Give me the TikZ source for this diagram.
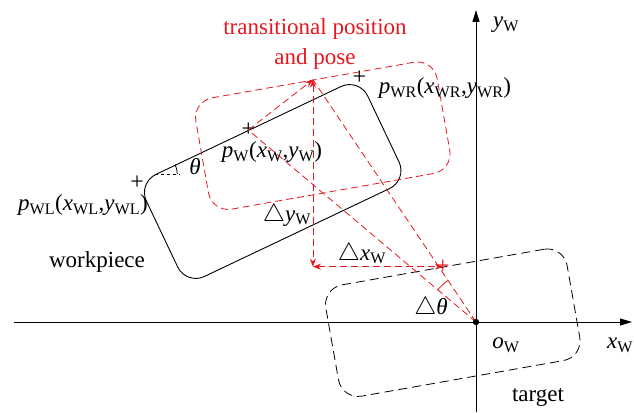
\documentclass[tikz,border=0pt]{standalone}
\usepackage{fontspec}
\setmainfont{Liberation Serif}
\usetikzlibrary{arrows.meta,calc,angles}
\definecolor{tred}{RGB}{232,22,30}
\newcommand{\sub}[1]{\textsubscript{#1}}

\begin{document}
\begin{tikzpicture}[x=1pt,y=1pt,>={Stealth[length=8pt,width=6pt]},font=\fontsize{23}{30}\selectfont,
 box/.style={rectangle,minimum width=245pt,minimum height=113pt,inner sep=0pt,rounded corners=20pt,line width=0.9pt},
 rl/.style={tred,dash pattern=on 7pt off 4pt,line width=0.8pt},
 axis/.style={-{Triangle[length=12pt,width=7pt]},line width=1pt},
 mk/.style={font=\fontsize{24}{24}\selectfont,inner sep=0pt},
 lab/.style={inner sep=0pt}]
\useasboundingbox (0,0) rectangle (634,-412);
% axes
\coordinate (o) at (476,-322);
\coordinate (xl) at (14,-322); \coordinate (xr) at (632,-322);
\coordinate (yb) at (476,-412); \coordinate (yt) at (476,-10);
\draw[axis] (xl) -- (xr);
\draw[axis] (yb) -- (yt);
% workpiece, transitional pose, target
\node[box,draw,rotate=25.4] (wp) at (272.7,-181.5) {};
\node[box,draw=tred,dash pattern=on 7pt off 4pt,line width=0.8pt,rotate=10] (tp) at (322.8,-135.7) {};
\node[box,draw,dash pattern=on 9pt off 5pt,line width=0.8pt,rotate=10] (tg) at (452.8,-322.7) {};
\coordinate (pwl) at (wp.north west);
\coordinate (pw) at (wp.north);
\coordinate (pwr) at (wp.north east);
\coordinate (pt) at (tp.north);
\coordinate (pg) at (tg.north);
\node[mk] (ml) at (pwl) {+};
\node[mk] (mm) at (pw) {+};
\node[mk] (mr) at (pwr) {+};
\node[mk,tred] (mg) at (pg) {+};
% theta at the workpiece corner
\coordinate (tc) at ($(pwl)!20pt!(pwr)$);
\coordinate (th) at ($(tc)+(25pt,0)$);
\draw[dashed,line width=0.8pt] (tc) -- (th);
\pic[draw,line width=0.8pt,angle radius=22pt] {angle=th--tc--pwr};
% displacement
\coordinate (c) at (pt |- pg);
\draw[rl] (o) -- (pw);
\draw[rl] (o) -- (pt);
\draw[rl,->] (pw) -- (pt);
\draw[rl,<->] (pt) -- (c);
\draw[rl,<->] (c) -- (pg);
\pic[draw=tred,line width=0.8pt,angle radius=50pt] {angle=pt--o--pw};
\fill (o) circle (3.2pt);
% labels
\node[lab] (lyw) at (506,-25) {\textit{y}\sub{W}};
\node[lab,tred,align=center] (ltp) at (315,-44) {transitional position\\and pose};
\node[lab] (lpr) at (445,-88) {\textit{p}\sub{WR}(\textit{x}\sub{WR},\textit{y}\sub{WR})};
\node[lab] (lpm) at (272,-152) {\textit{p}\sub{W}(\textit{x}\sub{W},\textit{y}\sub{W})};
\node[lab] (lth) at (195,-167) {\textit{θ}};
\node[lab] (lpl) at (83,-205) {\textit{p}\sub{WL}(\textit{x}\sub{WL},\textit{y}\sub{WL})};
\node[lab] (lwp) at (97,-262) {workpiece};
\node[lab] (ldy) at (287,-215) {$\triangle$\textit{y}\sub{W}};
\node[lab] (ldx) at (362,-254) {$\triangle$\textit{x}\sub{W}};
\node[lab] (ldt) at (431,-308) {$\triangle$\textit{θ}};
\node[lab] (low) at (506,-345) {\textit{o}\sub{W}};
\node[lab] (lxw) at (620,-345) {\textit{x}\sub{W}};
\node[lab] (ltg) at (538,-398) {target};
\end{tikzpicture}
\end{document}
